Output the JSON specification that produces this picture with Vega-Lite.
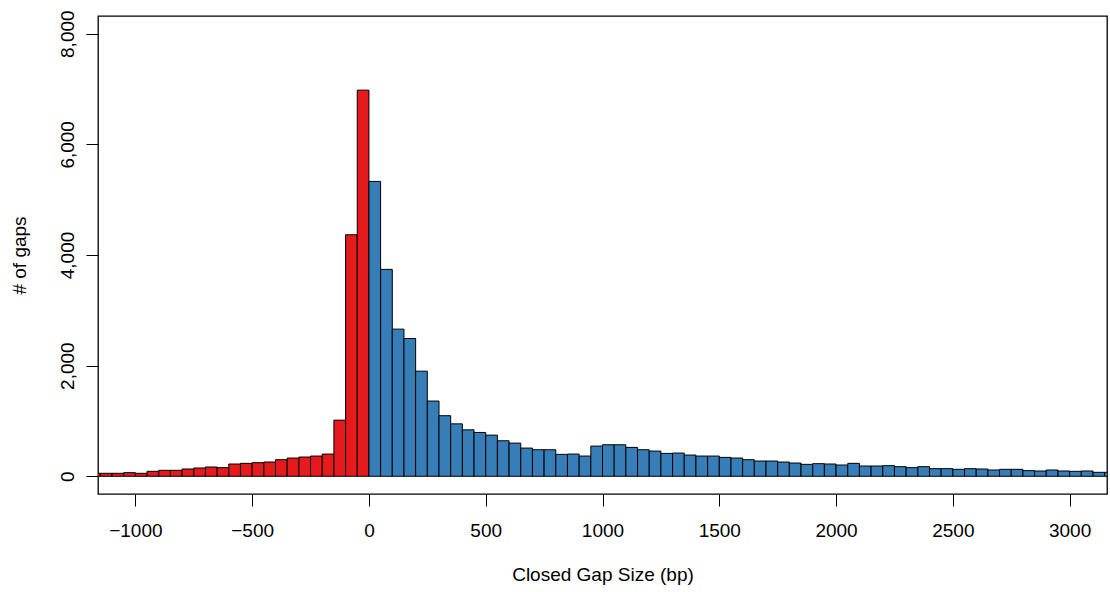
{
  "$schema": "https://vega.github.io/schema/vega-lite/v6.json",
  "autosize": "none",
  "width": 1009,
  "height": 478,
  "padding": {"left": 98, "top": 16, "right": 3, "bottom": 98},
  "background": "white",
  "config": {
    "font": "Liberation Sans",
    "view": {"stroke": "black", "strokeWidth": 1.3, "fill": "white"},
    "axis": {
      "grid": false,
      "domain": false,
      "tickColor": "black",
      "tickWidth": 1,
      "tickSize": 12,
      "labelColor": "black",
      "labelFontSize": 19,
      "labelFont": "Liberation Sans",
      "titleFont": "Liberation Sans",
      "titleFontSize": 19,
      "titleFontWeight": "normal",
      "titleColor": "black"
    }
  },
  "data": {
    "values": [
      {"start": -1200, "end": -1150, "count": 54, "side": "neg"},
      {"start": -1150, "end": -1100, "count": 54, "side": "neg"},
      {"start": -1100, "end": -1050, "count": 54, "side": "neg"},
      {"start": -1050, "end": -1000, "count": 66, "side": "neg"},
      {"start": -1000, "end": -950, "count": 54, "side": "neg"},
      {"start": -950, "end": -900, "count": 90, "side": "neg"},
      {"start": -900, "end": -850, "count": 108, "side": "neg"},
      {"start": -850, "end": -800, "count": 108, "side": "neg"},
      {"start": -800, "end": -750, "count": 132, "side": "neg"},
      {"start": -750, "end": -700, "count": 150, "side": "neg"},
      {"start": -700, "end": -650, "count": 168, "side": "neg"},
      {"start": -650, "end": -600, "count": 156, "side": "neg"},
      {"start": -600, "end": -550, "count": 222, "side": "neg"},
      {"start": -550, "end": -500, "count": 234, "side": "neg"},
      {"start": -500, "end": -450, "count": 246, "side": "neg"},
      {"start": -450, "end": -400, "count": 258, "side": "neg"},
      {"start": -400, "end": -350, "count": 300, "side": "neg"},
      {"start": -350, "end": -300, "count": 330, "side": "neg"},
      {"start": -300, "end": -250, "count": 348, "side": "neg"},
      {"start": -250, "end": -200, "count": 366, "side": "neg"},
      {"start": -200, "end": -150, "count": 402, "side": "neg"},
      {"start": -150, "end": -100, "count": 1015, "side": "neg"},
      {"start": -100, "end": -50, "count": 4366, "side": "neg"},
      {"start": -50, "end": 0, "count": 6980, "side": "neg"},
      {"start": 0, "end": 50, "count": 5330, "side": "pos"},
      {"start": 50, "end": 100, "count": 3740, "side": "pos"},
      {"start": 100, "end": 150, "count": 2660, "side": "pos"},
      {"start": 150, "end": 200, "count": 2490, "side": "pos"},
      {"start": 200, "end": 250, "count": 1900, "side": "pos"},
      {"start": 250, "end": 300, "count": 1360, "side": "pos"},
      {"start": 300, "end": 350, "count": 1095, "side": "pos"},
      {"start": 350, "end": 400, "count": 948, "side": "pos"},
      {"start": 400, "end": 450, "count": 840, "side": "pos"},
      {"start": 450, "end": 500, "count": 792, "side": "pos"},
      {"start": 500, "end": 550, "count": 744, "side": "pos"},
      {"start": 550, "end": 600, "count": 642, "side": "pos"},
      {"start": 600, "end": 650, "count": 600, "side": "pos"},
      {"start": 650, "end": 700, "count": 510, "side": "pos"},
      {"start": 700, "end": 750, "count": 480, "side": "pos"},
      {"start": 750, "end": 800, "count": 480, "side": "pos"},
      {"start": 800, "end": 850, "count": 396, "side": "pos"},
      {"start": 850, "end": 900, "count": 402, "side": "pos"},
      {"start": 900, "end": 950, "count": 366, "side": "pos"},
      {"start": 950, "end": 1000, "count": 546, "side": "pos"},
      {"start": 1000, "end": 1050, "count": 570, "side": "pos"},
      {"start": 1050, "end": 1100, "count": 570, "side": "pos"},
      {"start": 1100, "end": 1150, "count": 522, "side": "pos"},
      {"start": 1150, "end": 1200, "count": 480, "side": "pos"},
      {"start": 1200, "end": 1250, "count": 456, "side": "pos"},
      {"start": 1250, "end": 1300, "count": 414, "side": "pos"},
      {"start": 1300, "end": 1350, "count": 420, "side": "pos"},
      {"start": 1350, "end": 1400, "count": 384, "side": "pos"},
      {"start": 1400, "end": 1450, "count": 366, "side": "pos"},
      {"start": 1450, "end": 1500, "count": 366, "side": "pos"},
      {"start": 1500, "end": 1550, "count": 342, "side": "pos"},
      {"start": 1550, "end": 1600, "count": 330, "side": "pos"},
      {"start": 1600, "end": 1650, "count": 300, "side": "pos"},
      {"start": 1650, "end": 1700, "count": 276, "side": "pos"},
      {"start": 1700, "end": 1750, "count": 276, "side": "pos"},
      {"start": 1750, "end": 1800, "count": 258, "side": "pos"},
      {"start": 1800, "end": 1850, "count": 240, "side": "pos"},
      {"start": 1850, "end": 1900, "count": 216, "side": "pos"},
      {"start": 1900, "end": 1950, "count": 228, "side": "pos"},
      {"start": 1950, "end": 2000, "count": 222, "side": "pos"},
      {"start": 2000, "end": 2050, "count": 204, "side": "pos"},
      {"start": 2050, "end": 2100, "count": 234, "side": "pos"},
      {"start": 2100, "end": 2150, "count": 186, "side": "pos"},
      {"start": 2150, "end": 2200, "count": 186, "side": "pos"},
      {"start": 2200, "end": 2250, "count": 192, "side": "pos"},
      {"start": 2250, "end": 2300, "count": 174, "side": "pos"},
      {"start": 2300, "end": 2350, "count": 156, "side": "pos"},
      {"start": 2350, "end": 2400, "count": 174, "side": "pos"},
      {"start": 2400, "end": 2450, "count": 138, "side": "pos"},
      {"start": 2450, "end": 2500, "count": 138, "side": "pos"},
      {"start": 2500, "end": 2550, "count": 126, "side": "pos"},
      {"start": 2550, "end": 2600, "count": 138, "side": "pos"},
      {"start": 2600, "end": 2650, "count": 132, "side": "pos"},
      {"start": 2650, "end": 2700, "count": 114, "side": "pos"},
      {"start": 2700, "end": 2750, "count": 126, "side": "pos"},
      {"start": 2750, "end": 2800, "count": 126, "side": "pos"},
      {"start": 2800, "end": 2850, "count": 102, "side": "pos"},
      {"start": 2850, "end": 2900, "count": 96, "side": "pos"},
      {"start": 2900, "end": 2950, "count": 114, "side": "pos"},
      {"start": 2950, "end": 3000, "count": 96, "side": "pos"},
      {"start": 3000, "end": 3050, "count": 90, "side": "pos"},
      {"start": 3050, "end": 3100, "count": 96, "side": "pos"},
      {"start": 3100, "end": 3150, "count": 72, "side": "pos"},
      {"start": 3150, "end": 3200, "count": 72, "side": "pos"}
    ]
  },
  "mark": {"type": "bar", "clip": true, "stroke": "black", "strokeWidth": 1, "opacity": 1},
  "encoding": {
    "x": {
      "field": "start",
      "type": "quantitative",
      "scale": {"domain": [-1160, 3160], "nice": false, "zero": false},
      "axis": {
        "title": "Closed Gap Size (bp)",
        "values": [-1000, -500, 0, 500, 1000, 1500, 2000, 2500, 3000],
        "format": "d",
        "labelPadding": 15,
        "titlePadding": 25,
        "labelFlush": false
      }
    },
    "x2": {"field": "end"},
    "y": {
      "field": "count",
      "type": "quantitative",
      "scale": {"domain": [-320, 8320], "nice": false, "zero": false},
      "axis": {
        "title": "# of gaps",
        "values": [0, 2000, 4000, 6000, 8000],
        "format": ",d",
        "labelAngle": 270,
        "labelAlign": "center",
        "labelBaseline": "bottom",
        "labelPadding": 9,
        "titlePadding": 29,
        "labelFlush": false
      }
    },
    "y2": {"datum": 0},
    "color": {
      "field": "side",
      "type": "nominal",
      "scale": {"domain": ["neg", "pos"], "range": ["#E41A1C", "#377EB8"]},
      "legend": null
    }
  }
}
